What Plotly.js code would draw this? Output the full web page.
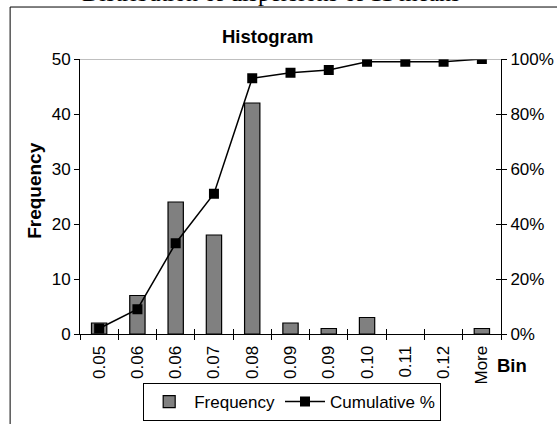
<!DOCTYPE html>
<html>
<head>
<meta charset="utf-8">
<script src="https://cdn.plot.ly/plotly-3.0.1.min.js"></script>
<style>html,body{margin:0;padding:0;background:#fff;}#chart{width:557px;height:424px;}</style>
</head>
<body>
<div id="chart"></div>
<script>
var binLabels = ['0.05','0.06','0.06','0.07','0.08','0.09','0.09','0.10','0.11','0.12','More'];
var frequency = [2, 7, 24, 18, 42, 2, 1, 3, 0, 0, 1];
var cumulativePct = [2, 9, 33, 51, 93, 95, 96, 99, 99, 99, 100];
var freqTicks = [0, 10, 20, 30, 40, 50];
var pctTicks = [0, 20, 40, 60, 80, 100];
var pctTickText = ['0%', '20%', '40%', '60%', '80%', '100%'];

var idx = binLabels.map(function(_, i){ return i; });
var bounds = [];
for (var i = 0; i <= binLabels.length; i++) bounds.push(i - 0.5);

var F = 'Liberation Sans, Arial, sans-serif';
var TF = {family: F, size: 17, color: '#000'};

var traces = [
  {type:'bar', x: idx, y: frequency, name:'Frequency', xaxis:'x', yaxis:'y',
   marker:{color:'#808080', line:{color:'#000', width: frequency.map(function(v){ return v > 0 ? 1.2 : 0; })}}},
  {type:'scatter', mode:'lines+markers', x: idx, y: cumulativePct, name:'Cumulative %',
   xaxis:'x', yaxis:'y2', line:{color:'#000', width:1.5},
   marker:{symbol:'square', size:10, color:'#000'}}
];

var range = [-0.5, binLabels.length - 0.5];
var layout = {
  width: 557, height: 424,
  margin: {l: 80, r: 56, t: 59, b: 90, autoexpand: false},
  paper_bgcolor: '#fff', plot_bgcolor: '#fff',
  showlegend: true,
  bargap: 0.6,
  font: {family: F, size: 17, color: '#000'},
  legend: {orientation: 'h', x: 0.504, xanchor: 'center', y: (334 - 421) / 275, yanchor: 'bottom',
           bordercolor: '#000', borderwidth: 1, font: {family: F, size: 17, color:'#000'},
           traceorder: 'normal', tracegroupgap: 0, itemwidth: 40},
  xaxis: {range: range, tickmode: 'array', tickvals: idx, ticktext: binLabels,
          tickangle: -90, ticks: '', showgrid: false, zeroline: false, automargin: false,
          ticklabelstandoff: 4,
          showline: true, linecolor: '#000', linewidth: 1, tickfont: TF, fixedrange: true},
  xaxis2: {range: range, overlaying: 'x', tickmode: 'array', tickvals: bounds, automargin: false,
           ticks: 'outside', ticklen: 5, tickcolor: '#000', showticklabels: false,
           showgrid: false, zeroline: false, showline: false, anchor: 'y'},
  xaxis3: {range: range, overlaying: 'x', tickmode: 'array', tickvals: bounds, automargin: false,
           ticks: 'inside', ticklen: 5, tickcolor: '#000', showticklabels: false,
           showgrid: false, zeroline: false, showline: false, anchor: 'y'},
  yaxis: {range: [0, 50], tickmode: 'array', tickvals: freqTicks, ticks: 'outside', ticklen: 5,
          tickcolor: '#000', showgrid: false, zeroline: false, showline: true, automargin: false,
          linecolor: '#000', linewidth: 1, tickfont: TF},
  yaxis2: {range: [0, 100], overlaying: 'y', side: 'right', tickmode: 'array', tickvals: pctTicks,
           ticktext: pctTickText, ticks: 'outside', ticklen: 5, tickcolor: '#000', showgrid: false,
           zeroline: false, showline: true, linecolor: '#000', linewidth: 1, automargin: false,
           tickfont: TF},
  yaxis3: {range: [0, 100], overlaying: 'y', side: 'right', tickmode: 'array', tickvals: pctTicks,
           ticks: 'inside', ticklen: 5, tickcolor: '#000', showticklabels: false, automargin: false,
           showgrid: false, zeroline: false, showline: false},
  shapes: [
    {type:'line', xref:'paper', yref:'y', x0:0, x1:1, y0:50, y1:50, line:{color:'#808080', width:1}},
    {type:'rect', xref:'paper', yref:'paper', x0:-0.166, x1:1.2, y0:-0.4, y1:1.189,
     line:{color:'#000', width:1}, fillcolor:'rgba(0,0,0,0)', layer:'below'}
  ],
  annotations: [
    {text: 'Distribution of dispersions of 11 means', xref:'paper', yref:'paper',
     x: 0.4537, y: (334 - 8) / 275, xanchor:'center', yanchor:'bottom', showarrow:false,
     font:{family:'Liberation Serif, Times New Roman, serif', size:24, color:'#000'}},
    {text: '<b>Histogram</b>', xref:'paper', yref:'paper', x: 0.4466, y: 1.0836,
     xanchor:'center', yanchor:'middle', showarrow:false, font:{family:F, size:18.5, color:'#000'}},
    {text: '<b>Frequency</b>', xref:'paper', yref:'paper', x: -0.107, y: 0.524, textangle: -90,
     xanchor:'center', yanchor:'middle', showarrow:false, font:{family:F, size:19, color:'#000'}},
    {text: '<b>Bin</b>', xref:'paper', yref:'paper', x: 1.026, y: -0.113,
     xanchor:'center', yanchor:'middle', showarrow:false, font:{family:F, size:18.5, color:'#000'}}
  ]
};

// empty traces that activate the overlay tick axes
traces.push({type:'scatter', x:[], y:[], xaxis:'x2', yaxis:'y', showlegend:false, hoverinfo:'skip'});
traces.push({type:'scatter', x:[], y:[], xaxis:'x3', yaxis:'y', showlegend:false, hoverinfo:'skip'});
traces.push({type:'scatter', x:[], y:[], xaxis:'x', yaxis:'y3', showlegend:false, hoverinfo:'skip'});

Plotly.newPlot('chart', traces, layout, {staticPlot: true, displayModeBar: false});
</script>
</body>
</html>
